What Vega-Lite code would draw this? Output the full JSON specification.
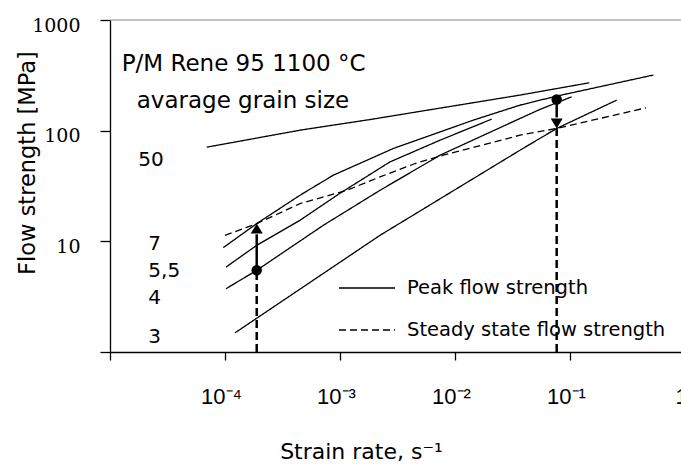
{
  "$schema": "https://vega.github.io/schema/vega-lite/v6.json",
  "width": 575,
  "height": 332,
  "autosize": {"type": "none"},
  "padding": {"left": 110, "top": 20, "right": 0, "bottom": 112},
  "background": "white",
  "config": {
    "view": {"stroke": null},
    "axis": {"domainColor": "black", "tickColor": "black", "labelColor": "black", "titleColor": "black", "grid": false, "domainWidth": 1.3, "tickWidth": 1.3, "titleFontWeight": "normal"}
  },
  "datasets": {
    "curves": [
      {"series": "50", "type": "Peak flow strength", "x": 6.93e-5, "y": 70.9},
      {"series": "50", "type": "Peak flow strength", "x": 4.49e-4, "y": 101},
      {"series": "50", "type": "Peak flow strength", "x": 1.82e-3, "y": 126},
      {"series": "50", "type": "Peak flow strength", "x": 0.0367, "y": 209.6},
      {"series": "50", "type": "Peak flow strength", "x": 0.1472, "y": 270.8},
      {"series": "7", "type": "Peak flow strength", "x": 9.66e-5, "y": 8.77},
      {"series": "7", "type": "Peak flow strength", "x": 1.887e-4, "y": 14.46},
      {"series": "7", "type": "Peak flow strength", "x": 4.49e-4, "y": 26.1},
      {"series": "7", "type": "Peak flow strength", "x": 8.74e-4, "y": 39.6},
      {"series": "7", "type": "Peak flow strength", "x": 2.907e-3, "y": 69.0},
      {"series": "7", "type": "Peak flow strength", "x": 0.01442, "y": 124.5},
      {"series": "7", "type": "Peak flow strength", "x": 0.03675, "y": 170.1},
      {"series": "7", "type": "Peak flow strength", "x": 0.0766, "y": 205.3},
      {"series": "7", "type": "Peak flow strength", "x": 0.53, "y": 318},
      {"series": "5,5", "type": "Peak flow strength", "x": 1.02e-4, "y": 5.85},
      {"series": "5,5", "type": "Peak flow strength", "x": 1.887e-4, "y": 9.2},
      {"series": "5,5", "type": "Peak flow strength", "x": 4.49e-4, "y": 15.5},
      {"series": "5,5", "type": "Peak flow strength", "x": 1.0e-3, "y": 27.2},
      {"series": "5,5", "type": "Peak flow strength", "x": 2.72e-3, "y": 52.2},
      {"series": "5,5", "type": "Peak flow strength", "x": 7.41e-3, "y": 82.0},
      {"series": "5,5", "type": "Peak flow strength", "x": 0.02085, "y": 127.1},
      {"series": "4", "type": "Peak flow strength", "x": 1.02e-4, "y": 3.73},
      {"series": "4", "type": "Peak flow strength", "x": 1.35e-4, "y": 4.44},
      {"series": "4", "type": "Peak flow strength", "x": 1.887e-4, "y": 5.47},
      {"series": "4", "type": "Peak flow strength", "x": 7.16e-4, "y": 13.96},
      {"series": "4", "type": "Peak flow strength", "x": 2.227e-3, "y": 28.9},
      {"series": "4", "type": "Peak flow strength", "x": 7.41e-3, "y": 60.0},
      {"series": "4", "type": "Peak flow strength", "x": 0.03675, "y": 128.9},
      {"series": "4", "type": "Peak flow strength", "x": 0.0548, "y": 155.6},
      {"series": "4", "type": "Peak flow strength", "x": 0.1035, "y": 202.2},
      {"series": "3", "type": "Peak flow strength", "x": 1.222e-4, "y": 1.49},
      {"series": "3", "type": "Peak flow strength", "x": 2.227e-3, "y": 11.33},
      {"series": "3", "type": "Peak flow strength", "x": 0.03675, "y": 66.6},
      {"series": "3", "type": "Peak flow strength", "x": 0.0766, "y": 104.7},
      {"series": "3", "type": "Peak flow strength", "x": 0.2547, "y": 188.8},
      {"series": "ss", "type": "Steady state flow strength", "x": 1.0e-4, "y": 11.33},
      {"series": "ss", "type": "Steady state flow strength", "x": 1.887e-4, "y": 14.46},
      {"series": "ss", "type": "Steady state flow strength", "x": 4.49e-4, "y": 21.9},
      {"series": "ss", "type": "Steady state flow strength", "x": 1.144e-3, "y": 28.9},
      {"series": "ss", "type": "Steady state flow strength", "x": 2.227e-3, "y": 38.2},
      {"series": "ss", "type": "Steady state flow strength", "x": 4.508e-3, "y": 50.5},
      {"series": "ss", "type": "Steady state flow strength", "x": 7.91e-3, "y": 60.0},
      {"series": "ss", "type": "Steady state flow strength", "x": 0.03675, "y": 91.0},
      {"series": "ss", "type": "Steady state flow strength", "x": 0.0766, "y": 104.7},
      {"series": "ss", "type": "Steady state flow strength", "x": 0.458, "y": 160.8}
    ],
    "markers": [
      {"x": 1.887e-4, "low": 1, "dashTop": 5.47, "dot": 5.47, "head": 11.57, "tip": 14.46, "dir": "up"},
      {"x": 0.0766, "low": 1, "dashTop": 104.7, "dot": 191.5, "head": 131.7, "tip": 104.7, "dir": "down"}
    ],
    "headers": [
      {"x": 1.264e-5, "y": 347.7, "text": "P/M Rene 95 1100 °C"},
      {"x": 1.707e-5, "y": 158.8, "text": "avarage grain size"}
    ],
    "grains": [
      {"x": 1.762e-5, "y": 48.0, "text": "50"},
      {"x": 2.153e-5, "y": 8.41, "text": "7"},
      {"x": 2.153e-5, "y": 4.75, "text": "5,5"},
      {"x": 2.153e-5, "y": 2.73, "text": "4"},
      {"x": 2.153e-5, "y": 1.201, "text": "3"}
    ],
    "top": [{"y": 1000}]
  },
  "layer": [
    {
      "data": {"name": "top"},
      "mark": {"type": "rule", "color": "#888888", "strokeWidth": 1},
      "encoding": {"y": {"field": "y", "type": "quantitative"}}
    },
    {
      "data": {"name": "curves"},
      "mark": {"type": "line", "color": "black", "strokeWidth": 1.3},
      "encoding": {
        "x": {"field": "x", "type": "quantitative", "scale": {"type": "log", "domain": [1e-5, 1], "nice": false},
          "axis": {"values": [1e-5, 1e-4, 1e-3, 1e-2, 1e-1, 1], "labelExpr": "datum.value < 2e-5 ? '' : datum.value < 2e-4 ? '10⁻⁴' : datum.value < 2e-3 ? '10⁻³' : datum.value < 2e-2 ? '10⁻²' : datum.value < 0.2 ? '10⁻¹' : '1'",
            "tickSize": 8, "labelFont": "Liberation Sans", "labelFontSize": 22, "labelPadding": 26, "labelOffset": -4, "labelFlush": false, "labelOverlap": false,
            "title": "Strain rate, s⁻¹", "titleFont": "DejaVu Sans", "titleFontSize": 22, "titleX": 251, "titleY": 106, "titleAlign": "center", "titleBaseline": "alphabetic"}},
        "y": {"field": "y", "type": "quantitative", "scale": {"type": "log", "domain": [1, 1000], "nice": false},
          "axis": {"values": [1, 10, 100, 1000], "labelExpr": "datum.value < 2 ? '' : datum.value < 20 ? '10' : datum.value < 200 ? '100' : '1000'",
            "tickSize": 10, "labelFont": "DejaVu Serif", "labelFontSize": 19, "labelPadding": 20, "labelOffset": 5,
            "title": "Flow strength [MPa]", "titleFont": "DejaVu Sans", "titleFontSize": 22.5, "titleX": -83, "titleY": 142.5, "titleAngle": -90, "titleAlign": "center", "titleBaseline": "middle"}},
        "detail": {"field": "series", "type": "nominal"},
        "strokeDash": {"field": "type", "type": "nominal",
          "scale": {"domain": ["Peak flow strength", "Steady state flow strength"], "range": [[1, 0], [7, 4]]},
          "legend": {"title": null, "orient": "none", "legendX": 228, "legendY": 258, "symbolType": "stroke", "symbolSize": 3136, "symbolStrokeWidth": 1.3, "symbolStrokeColor": "black", "clipHeight": 20, "rowPadding": 22, "labelOffset": 11, "labelFont": "DejaVu Sans", "labelFontSize": 19.5, "labelColor": "black", "padding": 0, "labelLimit": 400}}
      }
    },
    {
      "data": {"name": "markers"},
      "mark": {"type": "rule", "color": "black", "strokeWidth": 2.5, "strokeDash": [8, 4]},
      "encoding": {
        "x": {"field": "x", "type": "quantitative"},
        "y": {"field": "low", "type": "quantitative"},
        "y2": {"field": "dashTop"}
      }
    },
    {
      "data": {"name": "markers"},
      "mark": {"type": "rule", "color": "black", "strokeWidth": 2.5},
      "encoding": {
        "x": {"field": "x", "type": "quantitative"},
        "y": {"field": "dot", "type": "quantitative"},
        "y2": {"field": "head"}
      }
    },
    {
      "data": {"name": "markers"},
      "mark": {"type": "point", "filled": true, "color": "black", "opacity": 1, "size": 110},
      "encoding": {
        "x": {"field": "x", "type": "quantitative"},
        "y": {"field": "dot", "type": "quantitative"}
      }
    },
    {
      "data": {"name": "markers"},
      "mark": {"type": "point", "filled": true, "color": "black", "opacity": 1, "size": 400},
      "encoding": {
        "x": {"field": "x", "type": "quantitative"},
        "y": {"field": "tip", "type": "quantitative"},
        "shape": {"field": "dir", "type": "nominal", "scale": {"domain": ["up", "down"], "range": ["M0,0L0.6,1L-0.6,1Z", "M0,0L0.6,-1L-0.6,-1Z"]}, "legend": null}
      }
    },
    {
      "data": {"name": "headers"},
      "mark": {"type": "text", "align": "left", "baseline": "alphabetic", "font": "DejaVu Sans", "fontSize": 23, "color": "black"},
      "encoding": {
        "x": {"field": "x", "type": "quantitative"},
        "y": {"field": "y", "type": "quantitative"},
        "text": {"field": "text"}
      }
    },
    {
      "data": {"name": "grains"},
      "mark": {"type": "text", "align": "left", "baseline": "alphabetic", "font": "DejaVu Sans", "fontSize": 20, "color": "black"},
      "encoding": {
        "x": {"field": "x", "type": "quantitative"},
        "y": {"field": "y", "type": "quantitative"},
        "text": {"field": "text"}
      }
    }
  ]
}
